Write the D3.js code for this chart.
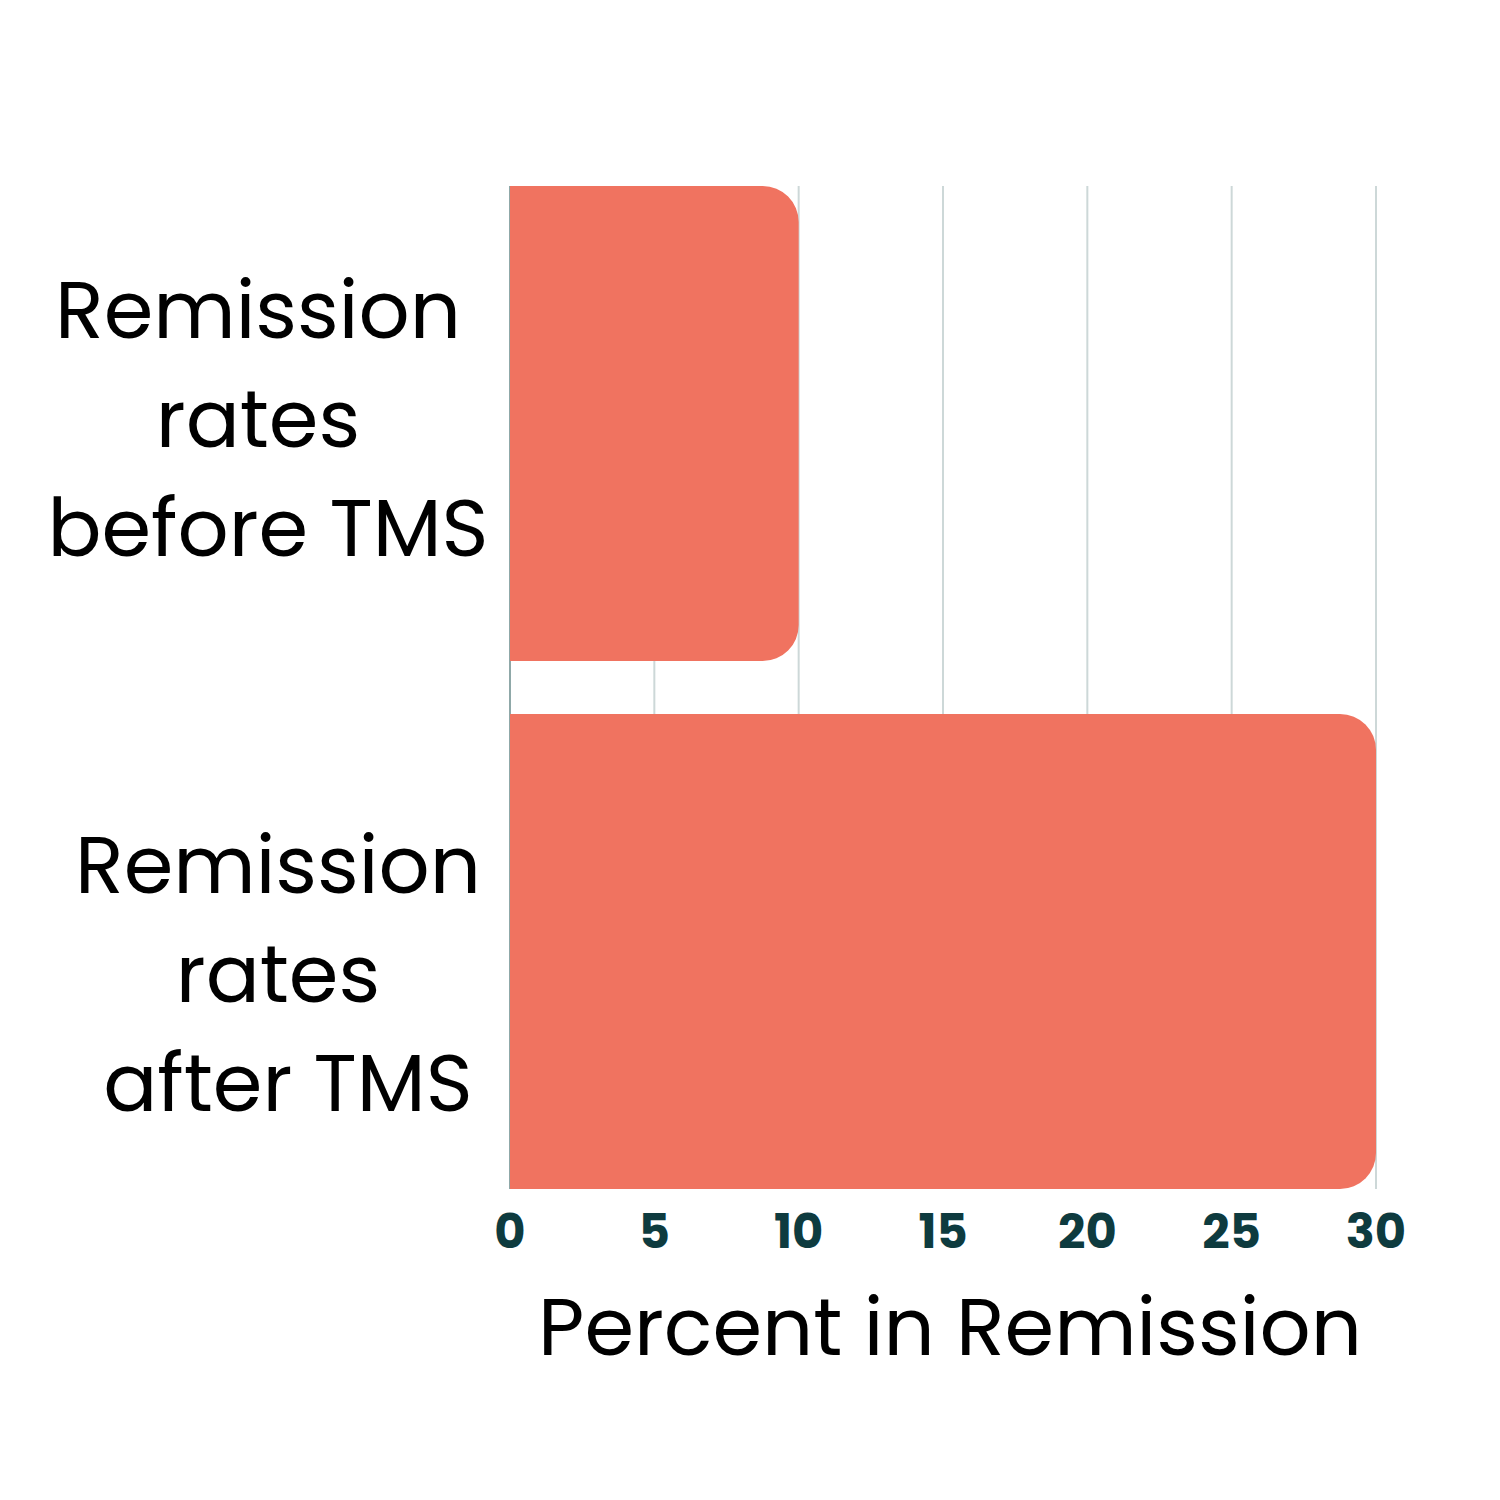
<!DOCTYPE html>
<html>
<head>
<meta charset="utf-8">
<script src="https://cdn.jsdelivr.net/npm/d3@7"></script>
<style>
  body { margin: 0; background: #fff; }
  text { font-family: "Poppins", "Inter", sans-serif; }
</style>
</head>
<body>
<div id="chart"></div>
<script>
// data
const categories = ["before", "after"]
const labels = [
  ["Remission", "rates", "before TMS"],
  ["Remission", "rates", "after TMS"]
]
const values = [10, 30]
const ticks = [0, 5, 10, 15, 20, 25, 30]

let svgWidth = 1500
let svgHeight = 1500
const margin = { top: 186, right: 124, bottom: 311, left: 510 }

const svg = d3.select("#chart").append("svg")
    .attr("width", svgWidth)
    .attr("height", svgHeight)

const x = d3.scaleLinear()
    .domain([0, 30])
    .range([margin.left, svgWidth - margin.right])

const y = d3.scaleBand()
    .domain(categories)
    .range([margin.top, svgHeight - margin.bottom])
    .paddingInner(0.1)
    .paddingOuter(0)

// gridlines
svg.append("g")
    .selectAll("line")
    .data(ticks)
    .enter()
    .append("line")
    .attr("x1", d => x(d))
    .attr("x2", d => x(d))
    .attr("y1", margin.top)
    .attr("y2", svgHeight - margin.bottom)
    .attr("stroke", d => d === 0 ? "#8fa8a8" : "#cdd8d8")
    .attr("stroke-width", 2)

// bars with rounded right end
const r = 36
function barPath(d, i) {
    let x0 = x(0), x1 = x(d)
    let y0 = y(categories[i]), y1 = y0 + y.bandwidth()
    return `M${x0},${y0} H${x1 - r} A${r},${r} 0 0 1 ${x1},${y0 + r}` +
        ` V${y1 - r} A${r},${r} 0 0 1 ${x1 - r},${y1} H${x0} Z`
}

svg.append("g")
    .selectAll("path")
    .data(values)
    .enter()
    .append("path")
    .attr("d", barPath)
    .attr("fill", "#f07360")

// category labels (the second block sits a little lower, as in the original)
const labelX = [258, 278]
const labelDy = [-86, -58]
const lastLineShift = 10
svg.append("g")
    .selectAll("text")
    .data(labels)
    .enter()
    .append("text")
    .attr("text-anchor", "middle")
    .attr("font-size", 80)
    .attr("fill", "#000")
    .each(function (lines, i) {
        let cy = y(categories[i]) + y.bandwidth() / 2
        d3.select(this).selectAll("tspan")
            .data(lines)
            .enter()
            .append("tspan")
            .attr("x", (l, j) => labelX[i] + (j === lines.length - 1 ? lastLineShift : 0))
            .attr("y", (l, j) => cy + labelDy[i] + j * 109)
            .text(l => l)
    })

// tick labels
svg.append("g")
    .selectAll("text")
    .data(ticks)
    .enter()
    .append("text")
    .attr("x", d => x(d))
    .attr("y", 1248)
    .attr("text-anchor", "middle")
    .attr("font-size", 48)
    .attr("font-weight", 700)
    .attr("fill", "#0e3b3f")
    .text(d => d)

// axis title
svg.append("text")
    .attr("x", (x(0) + x(30)) / 2 + 7)
    .attr("y", 1355)
    .attr("text-anchor", "middle")
    .attr("font-size", 80)
    .attr("fill", "#000")
    .text("Percent in Remission")
</script>
</body>
</html>
